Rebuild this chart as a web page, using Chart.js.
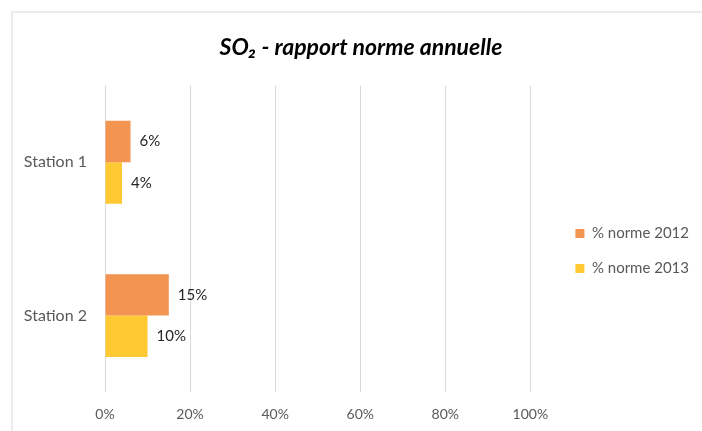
<!DOCTYPE html>
<html>
<head>
<meta charset="utf-8">
<script src="https://cdn.jsdelivr.net/npm/chart.js@4"></script>
<style>
  html, body { margin: 0; background: #fff; overflow: hidden; }
  #box {
    position: absolute; left: 11px; top: 11px;
    width: 689px; height: 418px; overflow: hidden;
    border-top: 2px solid #ececec; border-left: 2px solid #ececec;
  }
</style>
</head>
<body>
<div id="box"><canvas id="barChart" width="700" height="424"></canvas></div>
<script>
const categories = ['Station 1', 'Station 2'];
const norme2012 = [6, 15];
const norme2013 = [4, 10];
const seriesNames = ['% norme 2012', '% norme 2013'];

const FONT = 'Lato, "Open Sans", sans-serif';

// writes the value at the end of each bar
const barLabels = {
    id: 'barLabels',
    afterDatasetsDraw(chart) {
        const ctx = chart.ctx;
        ctx.save();
        ctx.font = '15px ' + FONT;
        ctx.fillStyle = '#262626';
        ctx.textAlign = 'left';
        ctx.textBaseline = 'middle';
        chart.data.datasets.forEach((ds, i) => {
            chart.getDatasetMeta(i).data.forEach((bar, j) => {
                ctx.fillText(ds.data[j] + '%', bar.x + 9, bar.y);
            });
        });
        ctx.restore();
    }
};

// nudge legend and title to where excel put them
const boxShift = {
    id: 'boxShift',
    afterLayout(chart) {
        const lg = chart.legend;
        lg.left += 25; lg.right += 25;
        lg.top += 26; lg.bottom += 26;
        chart.titleBlock.right += 25;
    }
};

const CHART = document.getElementById('barChart');

let barChart = new Chart(CHART, {
    type: 'bar',
    data: {
        labels: categories,
        datasets: [
            {
                label: seriesNames[0],
                backgroundColor: '#F39550',
                data: norme2012
            }, {
                label: seriesNames[1],
                backgroundColor: '#FFC933',
                data: norme2013
            }
        ]
    },
    options: {
        indexAxis: 'y',
        responsive: false,
        animation: false,
        categoryPercentage: 0.54,
        barPercentage: 1,
        layout: { padding: { left: 10, right: 39, bottom: 0 } },
        scales: {
            x: {
                min: 0,
                max: 100,
                ticks: {
                    stepSize: 20,
                    padding: 14,
                    color: '#595959',
                    font: { family: FONT, size: 14 },
                    callback: v => v + '%'
                },
                grid: { color: '#d9d9d9', drawTicks: false },
                border: { display: false }
            },
            y: {
                ticks: {
                    padding: 10,
                    color: '#595959',
                    font: { family: FONT, size: 16 }
                },
                grid: { display: false },
                border: { display: false },
                afterFit(scale) { scale.width = 82; }
            }
        },
        plugins: {
            title: {
                display: true,
                text: 'SO₂ - rapport norme annuelle',
                color: '#000',
                font: { family: FONT, size: 23, weight: 'bold', style: 'italic' },
                padding: { top: 21, bottom: 24 }
            },
            legend: {
                position: 'right',
                labels: {
                    boxWidth: 9,
                    boxHeight: 9,
                    padding: 20,
                    color: '#595959',
                    font: { family: FONT, size: 15 }
                }
            },
            tooltip: { enabled: false }
        }
    },
    plugins: [barLabels, boxShift]
});
</script>
</body>
</html>
